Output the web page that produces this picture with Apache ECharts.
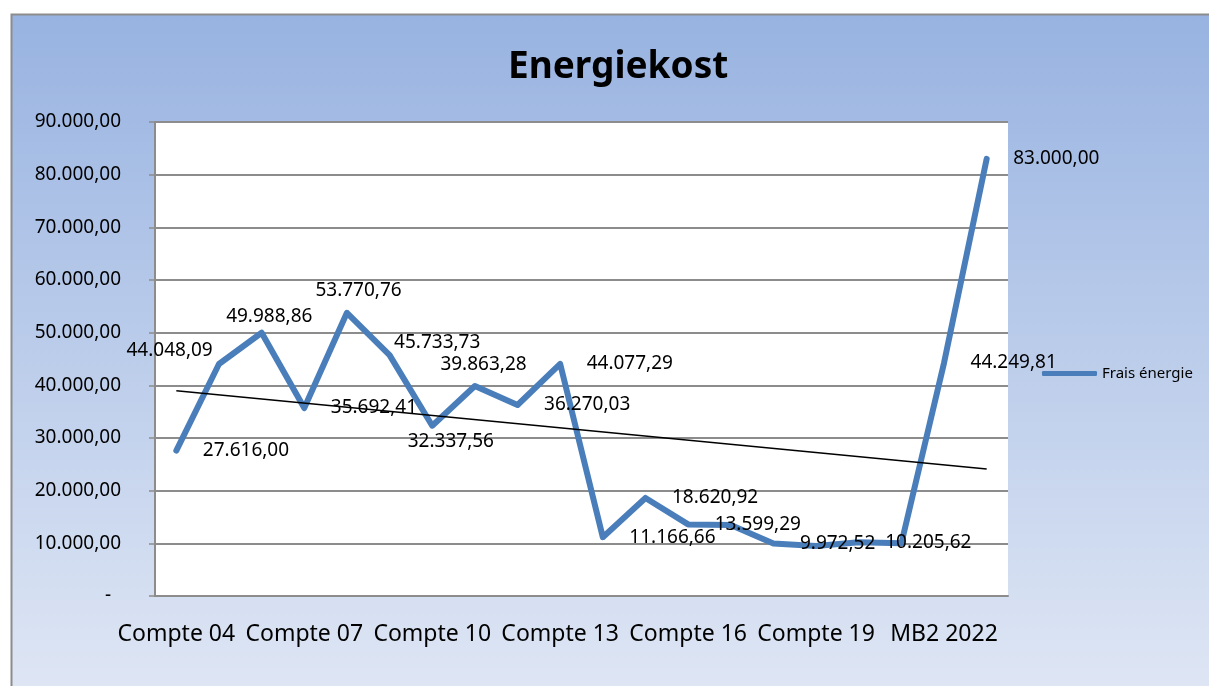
<!DOCTYPE html>
<html>
<head>
<meta charset="utf-8">
<title>Energiekost</title>
<script src="https://cdn.jsdelivr.net/npm/echarts@6/dist/echarts.min.js"></script>
<style>
  html, body { margin: 0; padding: 0; background: #fff; overflow: hidden; }
  #chart { width: 1209px; height: 686px; }
</style>
</head>
<body>
<div id="chart"></div>
<script>
// categories (only every 3rd one is printed on the axis)
var categories = [
  "Compte 04", "Compte 05", "Compte 06", "Compte 07", "Compte 08",
  "Compte 09", "Compte 10", "Compte 11", "Compte 12", "Compte 13",
  "Compte 14", "Compte 15", "Compte 16", "Compte 17", "Compte 18",
  "Compte 19", "Compte 20", "Compte 21", "MB2 2022", "MB2 2023"
];
// Frais énergie
var costs = [
  27616.00, 44048.09, 49988.86, 35692.41, 53770.76,
  45733.73, 32337.56, 39863.28, 36270.03, 44077.29,
  11166.66, 18620.92, 13599.29, 13480.00, 9972.52,
  9500.00, 10205.62, 10000.00, 44249.81, 83000.00
];
// points shown without a value label
var unlabeled = [13, 15, 17];
// linear trend line, first and last value
var trendEnds = [38980, 24110];
var yTicks = [0, 10000, 20000, 30000, 40000, 50000, 60000, 70000, 80000, 90000];

// labels that were dragged away from the default "right" spot
var labelShift = {
  1: [-119, -13],
  2: [-62, -16],
  4: [-58, -22],
  5: [-22, -13],
  6: [-51, 16],
  7: [-61, -21]
};

var FONT = "Noto Sans";

function fmt(v) {
  var neg = v < 0;
  var parts = Math.abs(v).toFixed(2).split(".");
  var i = parts[0].replace(/\B(?=(\d{3})+(?!\d))/g, ".");
  return (neg ? "-" : "") + i + "," + parts[1];
}

var costData = costs.map(function (v, i) {
  var item = { value: v };
  if (unlabeled.indexOf(i) >= 0) {
    item.label = { show: false };
  } else if (labelShift[i]) {
    item.label = { offset: labelShift[i] };
  }
  return item;
});

var trendData = costs.map(function (v, i) {
  if (i === 0) return trendEnds[0];
  if (i === costs.length - 1) return trendEnds[1];
  return null;
});

var myChart = echarts.init(document.getElementById("chart"));
var option = {
  animation: false,
  graphic: {
    elements: [
      {
        // chart area fill, runs off the right and bottom of the page
        type: "rect",
        z: -10,
        shape: { x: 11, y: 14, width: 1300, height: 700 },
        style: {
          fill: new echarts.graphic.LinearGradient(0, 0, 0, 1, [
            { offset: 0, color: "#98b3e1" },
            { offset: 1, color: "#e1e8f5" }
          ])
        }
      },
      {
        // only the left and top border are visible
        type: "polyline",
        z: -9,
        shape: { points: [[11.5, 700], [11.5, 14.5], [1300, 14.5]] },
        style: { fill: null, stroke: "#8c8c8c", lineWidth: 2 }
      }
    ]
  },
  title: {
    text: "Energiekost",
    left: 503,
    top: 44,
    textStyle: {
      fontFamily: FONT,
      fontWeight: "bold",
      fontSize: 37,
      color: "#000"
    }
  },
  legend: {
    data: ["Frais énergie"],
    left: 1037,
    top: 361,
    icon: "roundRect",
    itemWidth: 55,
    itemHeight: 5,
    itemGap: 4,
    textStyle: { fontFamily: FONT, fontSize: 15, color: "#000" }
  },
  grid: {
    left: 155,
    top: 122,
    right: 201,
    bottom: 90,
    show: true,
    backgroundColor: "#fff",
    borderWidth: 0
  },
  xAxis: {
    type: "category",
    data: categories,
    axisLine: { lineStyle: { color: "#8c8c8c", width: 2 } },
    axisTick: { length: 7, lineStyle: { color: "#8c8c8c", width: 1.5 } },
    axisLabel: {
      interval: 2,
      margin: 27,
      fontFamily: FONT,
      fontSize: 23,
      color: "#000"
    }
  },
  yAxis: {
    type: "value",
    min: yTicks[0],
    max: yTicks[yTicks.length - 1],
    interval: yTicks[1] - yTicks[0],
    axisLine: { show: true, lineStyle: { color: "#8c8c8c", width: 2 } },
    axisTick: { show: true, length: 6, lineStyle: { color: "#8c8c8c", width: 1.5 } },
    splitLine: { lineStyle: { color: "#8c8c8c", width: 2 } },
    axisLabel: {
      margin: 34,
      fontFamily: FONT,
      fontSize: 19,
      color: "#000",
      formatter: function (v) {
        return v === 0 ? "{z|-}" : fmt(v);
      },
      rich: {
        z: { fontFamily: FONT, fontSize: 19, color: "#000", padding: [0, 10, 0, 0] }
      }
    }
  },
  series: [
    {
      name: "Frais énergie",
      type: "line",
      data: costData,
      color: "#4a7ebb",
      symbol: "circle",
      symbolSize: 1,
      showSymbol: true,
      lineStyle: { width: 6, cap: "round", join: "round" },
      label: {
        show: true,
        position: "right",
        distance: 26,
        fontFamily: FONT,
        fontSize: 19,
        color: "#000",
        formatter: function (p) {
          return fmt(p.value);
        }
      },
      z: 2
    },
    {
      name: "Trend",
      type: "line",
      data: trendData,
      connectNulls: true,
      color: "#000",
      symbol: "none",
      silent: true,
      lineStyle: { width: 1.5 },
      z: 3
    }
  ]
};
myChart.setOption(option);
</script>
</body>
</html>
